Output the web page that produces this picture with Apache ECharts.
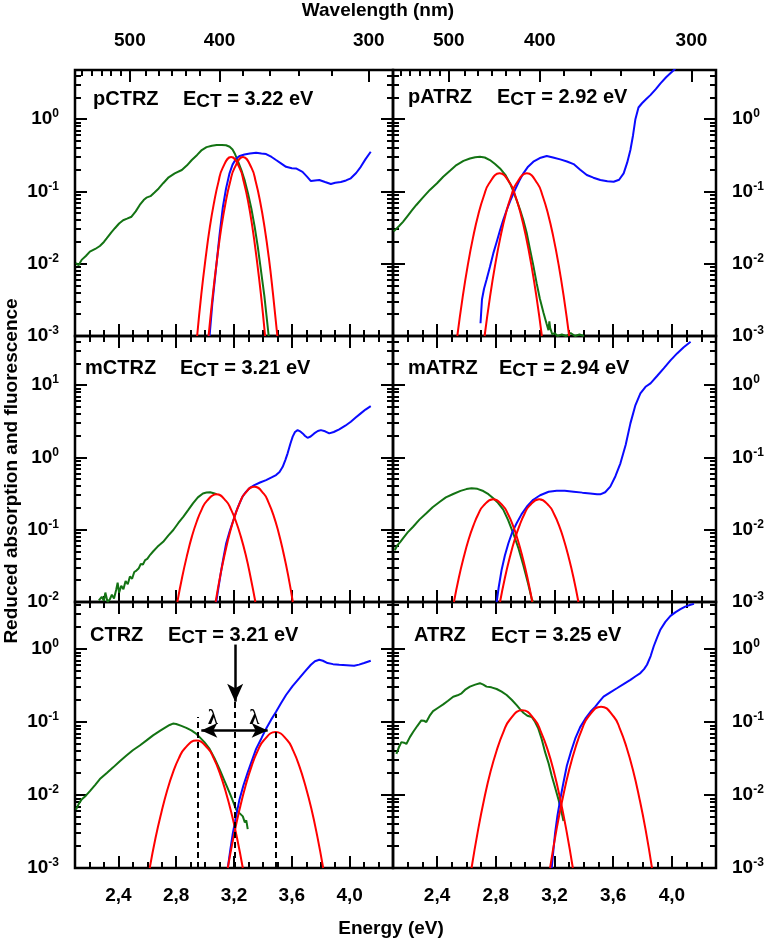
<!DOCTYPE html>
<html>
<head>
<meta charset="utf-8">
<title>CT energies</title>
<script src="https://cdn.jsdelivr.net/npm/echarts@6.0.0/dist/echarts.min.js"></script>
<style>
  html, body { margin: 0; padding: 0; background: #fff; }
  #main { width: 768px; height: 941px; }
</style>
</head>
<body>
<div id="main"></div>
<script>
// tick labels
var energyLabels = [2.4, 2.8, 3.2, 3.6, 4.0];
var wavelengthLabels = [500, 400, 300];
var wavelengthMinorTicks = [2.15, 2.215, 2.282, 2.348, 2.417, 2.59, 2.68, 2.772, 2.865, 2.963, 3.262, 3.444, 3.648, 3.876];

// pCTRZ
var pCTRZ_fluo = [[2.107,0.0102],[2.125,0.0095],[2.146,0.0113],[2.175,0.0128],[2.203,0.0147],[2.24,0.016],[2.272,0.0176],[2.30,0.02],[2.319,0.0224],[2.35,0.027],[2.376,0.031],[2.405,0.036],[2.433,0.040],[2.46,0.042],[2.491,0.0447],[2.52,0.053],[2.548,0.065],[2.575,0.076],[2.594,0.082],[2.622,0.086],[2.65,0.097],[2.679,0.110],[2.71,0.13],[2.748,0.157],[2.79,0.178],[2.839,0.198],[2.875,0.23],[2.908,0.272],[2.945,0.32],[2.977,0.374],[3.01,0.41],[3.047,0.43],[3.08,0.44],[3.116,0.44],[3.145,0.435],[3.17,0.415],[3.19,0.38],[3.205,0.336],[3.225,0.27],[3.251,0.198],[3.275,0.14],[3.297,0.094],[3.32,0.058],[3.343,0.0325],[3.365,0.017],[3.389,0.0074],[3.41,0.0036],[3.425,0.0019],[3.44,0.001]];
var pCTRZ_abs = [[3.031,0.001],[3.05,0.0028],[3.077,0.0091],[3.10,0.025],[3.123,0.061],[3.145,0.11],[3.169,0.178],[3.19,0.235],[3.215,0.286],[3.24,0.31],[3.272,0.325],[3.31,0.335],[3.353,0.343],[3.39,0.335],[3.422,0.329],[3.46,0.30],[3.491,0.272],[3.525,0.245],[3.56,0.219],[3.6,0.21],[3.629,0.208],[3.674,0.187],[3.705,0.16],[3.732,0.139],[3.76,0.142],[3.79,0.144],[3.83,0.135],[3.87,0.127],[3.9,0.132],[3.939,0.135],[3.975,0.142],[4.008,0.152],[4.045,0.18],[4.077,0.219],[4.11,0.28],[4.146,0.354]];
var pCTRZ_fit1 = [[2.945,0.001],[2.974,0.0038],[3.004,0.0121],[3.033,0.0323],[3.063,0.0721],[3.092,0.1346],[3.121,0.21],[3.18,0.30],[3.239,0.21],[3.268,0.1346],[3.298,0.0721],[3.327,0.0323],[3.356,0.0121],[3.386,0.0038],[3.415,0.001]];
var pCTRZ_fit2 = [[3.024,0.001],[3.054,0.0038],[3.084,0.0121],[3.113,0.0323],[3.143,0.0721],[3.173,0.1346],[3.203,0.21],[3.262,0.30],[3.322,0.21],[3.351,0.1346],[3.381,0.0721],[3.411,0.0323],[3.441,0.0121],[3.47,0.0038],[3.5,0.001]];

// pATRZ
var pATRZ_fluo = [[2.105,0.028],[2.112,0.029],[2.14,0.033],[2.168,0.038],[2.2,0.046],[2.23,0.055],[2.259,0.065],[2.3,0.081],[2.351,0.105],[2.4,0.13],[2.442,0.16],[2.49,0.195],[2.532,0.232],[2.58,0.265],[2.624,0.286],[2.66,0.298],[2.692,0.302],[2.725,0.295],[2.76,0.272],[2.795,0.24],[2.829,0.208],[2.865,0.17],[2.897,0.129],[2.92,0.1],[2.942,0.076],[2.965,0.056],[2.988,0.040],[3.01,0.027],[3.034,0.0155],[3.057,0.0092],[3.079,0.0053],[3.10,0.0033],[3.125,0.0021],[3.145,0.0015],[3.159,0.0012],[3.165,0.0016],[3.17,0.0013],[3.185,0.00105],[3.2,0.0011],[3.22,0.001],[3.25,0.00105],[3.28,0.001],[3.31,0.0011],[3.34,0.001],[3.37,0.00105],[3.40,0.001]];
var pATRZ_abs = [[2.696,0.0015],[2.706,0.0032],[2.72,0.0045],[2.737,0.006],[2.76,0.009],[2.783,0.0139],[2.806,0.02],[2.829,0.029],[2.85,0.04],[2.874,0.055],[2.9,0.075],[2.931,0.105],[2.96,0.14],[2.988,0.178],[3.02,0.22],[3.056,0.258],[3.1,0.29],[3.147,0.309],[3.19,0.295],[3.239,0.278],[3.285,0.26],[3.33,0.239],[3.375,0.2],[3.42,0.169],[3.465,0.155],[3.512,0.144],[3.56,0.138],[3.603,0.136],[3.64,0.145],[3.671,0.178],[3.695,0.25],[3.717,0.374],[3.735,0.6],[3.751,1.0],[3.772,1.45],[3.796,1.66],[3.825,1.9],[3.853,2.15],[3.89,2.6],[3.922,3.13],[3.96,3.8],[4.013,4.79],[4.04,5.5]];
var pATRZ_fit1 = [[2.538,0.001],[2.574,0.0034],[2.61,0.0097],[2.646,0.0235],[2.682,0.0487],[2.718,0.0858],[2.754,0.1286],[2.826,0.178],[2.898,0.1286],[2.934,0.0858],[2.97,0.0487],[3.006,0.0235],[3.042,0.0097],[3.078,0.0034],[3.114,0.001]];
var pATRZ_fit2 = [[2.724,0.001],[2.76,0.0034],[2.796,0.0097],[2.832,0.0235],[2.868,0.0487],[2.904,0.0858],[2.94,0.1286],[3.012,0.178],[3.084,0.1286],[3.12,0.0858],[3.156,0.0487],[3.192,0.0235],[3.228,0.0097],[3.264,0.0034],[3.3,0.001]];

// mCTRZ
var mCTRZ_fluo = [[2.265,0.0105],[2.285,0.0118],[2.30,0.0104],[2.31,0.0135],[2.325,0.0101],[2.34,0.0108],[2.355,0.0126],[2.37,0.0112],[2.385,0.0148],[2.395,0.0185],[2.405,0.0135],[2.42,0.0168],[2.435,0.015],[2.45,0.0195],[2.465,0.0176],[2.48,0.0226],[2.495,0.021],[2.51,0.026],[2.525,0.0272],[2.54,0.029],[2.555,0.0335],[2.57,0.033],[2.585,0.038],[2.60,0.0395],[2.62,0.045],[2.64,0.05],[2.67,0.058],[2.71,0.068],[2.745,0.083],[2.78,0.099],[2.815,0.124],[2.85,0.152],[2.885,0.19],[2.916,0.232],[2.95,0.28],[2.985,0.318],[3.01,0.327],[3.035,0.329],[3.06,0.32],[3.08,0.31]];
var mCTRZ_abs = [[3.077,0.01],[3.095,0.017],[3.112,0.0277],[3.13,0.044],[3.146,0.065],[3.17,0.095],[3.192,0.129],[3.215,0.178],[3.238,0.232],[3.26,0.29],[3.284,0.336],[3.31,0.38],[3.341,0.415],[3.38,0.45],[3.422,0.486],[3.46,0.53],[3.491,0.57],[3.515,0.63],[3.537,0.743],[3.555,0.92],[3.571,1.14],[3.59,1.55],[3.606,1.94],[3.622,2.25],[3.64,2.39],[3.657,2.3],[3.675,2.15],[3.692,1.98],[3.709,1.87],[3.73,1.95],[3.755,2.15],[3.78,2.32],[3.801,2.39],[3.83,2.3],[3.859,2.15],[3.89,2.25],[3.928,2.45],[3.97,2.75],[4.008,3.12],[4.04,3.55],[4.077,4.07],[4.11,4.6],[4.146,5.14]];
var mCTRZ_fit1 = [[2.808,0.01],[2.842,0.0224],[2.876,0.0449],[2.909,0.0809],[2.943,0.131],[2.977,0.191],[3.011,0.249],[3.078,0.309],[3.146,0.249],[3.179,0.191],[3.213,0.131],[3.247,0.0809],[3.281,0.0449],[3.314,0.0224],[3.348,0.01]];
var mCTRZ_fit2 = [[3.073,0.01],[3.106,0.0237],[3.14,0.0499],[3.173,0.0938],[3.207,0.157],[3.24,0.235],[3.273,0.313],[3.34,0.394],[3.407,0.313],[3.44,0.235],[3.474,0.157],[3.507,0.0938],[3.54,0.0499],[3.574,0.0237],[3.607,0.01]];

// mATRZ
var mATRZ_fluo = [[2.112,0.0052],[2.13,0.0061],[2.15,0.0068],[2.168,0.0076],[2.2,0.0092],[2.237,0.011],[2.28,0.0138],[2.327,0.0169],[2.37,0.0205],[2.419,0.0244],[2.46,0.028],[2.51,0.0312],[2.56,0.0345],[2.6,0.0365],[2.635,0.0374],[2.675,0.0368],[2.715,0.0343],[2.75,0.031],[2.783,0.0272],[2.815,0.0235],[2.851,0.019],[2.885,0.0135],[2.92,0.0088],[2.955,0.0055],[2.988,0.0032],[3.02,0.0018],[3.045,0.0011],[3.055,0.001]];
var mATRZ_abs = [[2.806,0.001],[2.82,0.0016],[2.84,0.0028],[2.862,0.0044],[2.886,0.0065],[2.912,0.0092],[2.942,0.0123],[2.975,0.0163],[3.011,0.0208],[3.055,0.026],[3.102,0.030],[3.16,0.0335],[3.215,0.0347],[3.27,0.0345],[3.33,0.0336],[3.39,0.0326],[3.443,0.0318],[3.49,0.031],[3.512,0.0309],[3.545,0.033],[3.58,0.0394],[3.615,0.055],[3.649,0.083],[3.685,0.15],[3.717,0.296],[3.75,0.52],[3.785,0.77],[3.82,0.95],[3.854,1.06],[3.9,1.35],[3.944,1.71],[3.99,2.2],[4.035,2.75],[4.08,3.35],[4.127,3.98]];
var mATRZ_fit1 = [[2.515,0.001],[2.548,0.00215],[2.582,0.00418],[2.615,0.00733],[2.649,0.0116],[2.682,0.0166],[2.715,0.0214],[2.782,0.0263],[2.849,0.0214],[2.882,0.0166],[2.916,0.0116],[2.949,0.00733],[2.982,0.00418],[3.016,0.00215],[3.049,0.001]];
var mATRZ_fit2 = [[2.829,0.001],[2.862,0.00215],[2.896,0.00418],[2.929,0.00733],[2.963,0.0116],[2.996,0.0166],[3.029,0.0214],[3.096,0.0263],[3.163,0.0214],[3.196,0.0166],[3.23,0.0116],[3.263,0.00733],[3.296,0.00418],[3.33,0.00215],[3.363,0.001]];

// CTRZ
var CTRZ_fluo = [[2.107,0.0063],[2.125,0.0075],[2.146,0.0087],[2.175,0.0098],[2.203,0.0113],[2.24,0.0138],[2.272,0.0165],[2.32,0.02],[2.364,0.0239],[2.41,0.029],[2.456,0.0347],[2.5,0.041],[2.548,0.0477],[2.595,0.056],[2.64,0.0655],[2.69,0.076],[2.732,0.0855],[2.755,0.091],[2.778,0.095],[2.80,0.094],[2.836,0.0883],[2.87,0.083],[2.905,0.0767],[2.935,0.07],[2.962,0.062],[2.995,0.053],[3.031,0.0428],[3.065,0.032],[3.1,0.0226],[3.135,0.0155],[3.169,0.0108],[3.19,0.0085],[3.215,0.0063],[3.24,0.0056],[3.261,0.0051],[3.275,0.0042],[3.285,0.0045],[3.295,0.0034]];
var CTRZ_abs = [[3.157,0.001],[3.175,0.0018],[3.192,0.003],[3.215,0.0052],[3.238,0.0087],[3.265,0.0135],[3.295,0.0204],[3.325,0.03],[3.353,0.0428],[3.39,0.06],[3.422,0.081],[3.455,0.106],[3.491,0.138],[3.525,0.18],[3.56,0.234],[3.605,0.31],[3.652,0.398],[3.69,0.49],[3.732,0.608],[3.76,0.68],[3.79,0.713],[3.815,0.69],[3.847,0.642],[3.885,0.62],[3.928,0.608],[3.98,0.6],[4.031,0.589],[4.065,0.61],[4.1,0.643],[4.146,0.69]];
var CTRZ_fit1 = [[2.617,0.001],[2.657,0.00257],[2.698,0.0058],[2.738,0.0116],[2.778,0.0204],[2.818,0.0317],[2.859,0.0433],[2.939,0.0557],[3.02,0.0433],[3.06,0.0317],[3.1,0.0204],[3.14,0.0116],[3.181,0.0058],[3.221,0.00257],[3.261,0.001]];
var CTRZ_fit2 = [[3.157,0.001],[3.198,0.00273],[3.24,0.00653],[3.281,0.0136],[3.322,0.0249],[3.363,0.0398],[3.405,0.0557],[3.487,0.0728],[3.57,0.0557],[3.611,0.0398],[3.652,0.0249],[3.693,0.0136],[3.735,0.00653],[3.776,0.00273],[3.817,0.001]];
// lambda construction in the CTRZ panel
var CTRZ_ect = 3.208;
var CTRZ_peaks = [2.946, 3.486];

// ATRZ
var ATRZ_fluo = [[2.123,0.0366],[2.14,0.045],[2.157,0.053],[2.175,0.052],[2.191,0.050],[2.215,0.062],[2.237,0.073],[2.265,0.088],[2.293,0.105],[2.31,0.104],[2.327,0.100],[2.35,0.122],[2.373,0.141],[2.41,0.158],[2.442,0.174],[2.475,0.195],[2.51,0.222],[2.54,0.232],[2.567,0.247],[2.595,0.28],[2.624,0.305],[2.66,0.325],[2.692,0.34],[2.715,0.325],[2.737,0.305],[2.77,0.298],[2.806,0.283],[2.84,0.26],[2.874,0.234],[2.91,0.2],[2.942,0.17],[2.965,0.15],[2.988,0.134],[3.015,0.122],[3.045,0.117],[3.068,0.1],[3.09,0.081],[3.113,0.058],[3.136,0.0386],[3.16,0.027],[3.181,0.0183],[3.205,0.0125],[3.227,0.0087],[3.245,0.0062],[3.261,0.0044]];
var ATRZ_abs = [[3.181,0.001],[3.192,0.0017],[3.204,0.003],[3.22,0.0052],[3.239,0.0087],[3.26,0.0145],[3.284,0.0251],[3.31,0.038],[3.341,0.059],[3.375,0.085],[3.41,0.111],[3.445,0.138],[3.478,0.162],[3.505,0.19],[3.534,0.222],[3.58,0.255],[3.625,0.29],[3.67,0.33],[3.717,0.378],[3.75,0.42],[3.785,0.468],[3.81,0.53],[3.83,0.608],[3.855,0.8],[3.876,1.09],[3.9,1.45],[3.922,1.85],[3.955,2.35],[3.99,2.84],[4.025,3.2],[4.058,3.51],[4.09,3.8],[4.127,4.03],[4.15,4.15]];
var ATRZ_fit1 = [[2.635,0.001],[2.678,0.0032],[2.721,0.0088],[2.764,0.0208],[2.808,0.0418],[2.851,0.0721],[2.894,0.1064],[2.98,0.145],[3.066,0.1064],[3.109,0.0721],[3.153,0.0418],[3.196,0.0208],[3.239,0.0088],[3.282,0.0032],[3.325,0.001]];
var ATRZ_fit2 = [[3.17,0.001],[3.213,0.0033],[3.257,0.00926],[3.3,0.0222],[3.344,0.0455],[3.387,0.0793],[3.43,0.118],[3.517,0.162],[3.604,0.118],[3.647,0.0793],[3.69,0.0455],[3.734,0.0222],[3.777,0.00926],[3.821,0.0033],[3.864,0.001]];

var HC = 1239.84;
var FONT = '"Liberation Sans", Arial, Helvetica, sans-serif';
var GREEN = '#137313', BLUE = '#0a0aff', RED = '#ff0000';

var panels = [
    {col: 0, row: 0, name: 'pCTRZ', ect: '3.22', ymin: 1e-3, ymax: 4.79, fluo: pCTRZ_fluo, abs: pCTRZ_abs, fits: [pCTRZ_fit1, pCTRZ_fit2], nameX: 93, ectX: 183, textY: 99},
    {col: 1, row: 0, name: 'pATRZ', ect: '2.92', ymin: 1e-3, ymax: 4.79, fluo: pATRZ_fluo, abs: pATRZ_abs, fits: [pATRZ_fit1, pATRZ_fit2], nameX: 408, ectX: 497, textY: 97},
    {col: 0, row: 1, name: 'mCTRZ', ect: '3.21', ymin: 1e-2, ymax: 47.9, fluo: mCTRZ_fluo, abs: mCTRZ_abs, fits: [mCTRZ_fit1, mCTRZ_fit2], nameX: 85, ectX: 180, textY: 368},
    {col: 1, row: 1, name: 'mATRZ', ect: '2.94', ymin: 1e-3, ymax: 4.79, fluo: mATRZ_fluo, abs: mATRZ_abs, fits: [mATRZ_fit1, mATRZ_fit2], nameX: 408, ectX: 499, textY: 368},
    {col: 0, row: 2, name: 'CTRZ', ect: '3.21', ymin: 1e-3, ymax: 4.4, fluo: CTRZ_fluo, abs: CTRZ_abs, fits: [CTRZ_fit1, CTRZ_fit2], nameX: 90, ectX: 168, textY: 635, lambda: true},
    {col: 1, row: 2, name: 'ATRZ', ect: '3.25', ymin: 1e-3, ymax: 4.4, fluo: ATRZ_fluo, abs: ATRZ_abs, fits: [ATRZ_fit1, ATRZ_fit2], nameX: 414, ectX: 491, textY: 635}
];

var colRect = [{left: 75, width: 318}, {left: 393, width: 323}];
var rowTop = [70, 336, 602];
var rowH = 266;

var energyMinor = [];
for (var k = 22; k <= 42; k++) energyMinor.push(k / 10);

function powLabel(v) {
    var e = Math.round(Math.log10(v));
    if (Math.abs(v / Math.pow(10, e) - 1) > 1e-6) return '';
    return '{b|10}{s|' + e + '}';
}
var powRich = {
    b: {fontSize: 19, fontWeight: 'bold', fontFamily: FONT, color: '#000', lineHeight: 22},
    s: {fontSize: 12, fontWeight: 'bold', fontFamily: FONT, color: '#000', lineHeight: 10, verticalAlign: 'top'}
};
var tickStyle = {color: '#000', width: 2};

function xAxis(grid, pos, ticks, len, label) {
    return {
        type: 'value', gridIndex: grid, position: pos, min: 2.1, max: 4.3,
        axisLine: {show: false, onZero: false}, splitLine: {show: false},
        axisTick: {show: true, inside: true, length: len, customValues: ticks, lineStyle: tickStyle},
        axisLabel: label || {show: false}
    };
}

function yLog(grid, pos, p, showLabel) {
    return {
        type: 'log', logBase: 10, gridIndex: grid, position: pos, min: p.ymin, max: p.ymax,
        axisLine: {show: false, onZero: false}, splitLine: {show: false},
        axisTick: {show: true, inside: true, length: 12, lineStyle: tickStyle},
        axisLabel: showLabel ? {show: true, margin: 16, formatter: powLabel, rich: powRich} : {show: false}
    };
}

// minor ticks at 2..9 x 10^n, placed on a decade-exponent axis laid over the log one
function yMinor(grid, pos, p) {
    var lo = Math.log10(p.ymin), hi = Math.log10(p.ymax), vals = [];
    for (var d = Math.floor(lo); d <= Math.ceil(hi); d++) {
        for (var m = 2; m <= 9; m++) {
            var v = d + Math.log10(m);
            if (v > lo && v < hi) vals.push(v);
        }
    }
    return {
        type: 'value', gridIndex: grid, position: pos, min: lo, max: hi,
        axisLine: {show: false, onZero: false}, splitLine: {show: false},
        axisTick: {show: true, inside: true, length: 6, customValues: vals, lineStyle: tickStyle},
        axisLabel: {show: false, customValues: vals}
    };
}

var energyLabel = {
    show: true, margin: 18, customValues: energyLabels, color: '#000',
    fontSize: 19, fontWeight: 'bold', fontFamily: FONT,
    formatter: function (v) { return v.toFixed(1).replace('.', ','); }
};
var wlMajor = wavelengthLabels.map(function (w) { return HC / w; });
var wlLabel = {
    show: true, margin: 20, customValues: wlMajor, color: '#000',
    fontSize: 19, fontWeight: 'bold', fontFamily: FONT,
    formatter: function (v) { return String(Math.round(HC / v)); }
};

var grids = [], xAxes = [], yAxes = [], series = [], graphics = [];

panels.forEach(function (p) {
    var rect = {left: colRect[p.col].left, top: rowTop[p.row], width: colRect[p.col].width, height: rowH};
    var gA = grids.length;
    grids.push(Object.assign({show: true, borderColor: '#000', borderWidth: 2.5, backgroundColor: 'transparent'}, rect));
    var gB = grids.length;
    grids.push(Object.assign({show: false}, rect));

    var xMain = xAxes.length;
    xAxes.push(xAxis(gA, 'bottom', energyLabels, 12, p.row === 2 ? energyLabel : null));
    if (p.row === 0) {
        xAxes.push(xAxis(gA, 'top', wlMajor, 12, wlLabel));
    } else {
        xAxes.push(xAxis(gA, 'top', energyLabels, 12, null));
    }
    xAxes.push(xAxis(gB, 'bottom', energyMinor, 6, null));
    xAxes.push(xAxis(gB, 'top', p.row === 0 ? wavelengthMinorTicks : energyMinor, 6, null));

    var yMain = yAxes.length;
    yAxes.push(yLog(gA, 'left', p, p.col === 0));
    yAxes.push(yLog(gA, 'right', p, p.col === 1));
    yAxes.push(yMinor(gB, 'left', p));
    yAxes.push(yMinor(gB, 'right', p));

    function line(data, color, smooth) {
        return {
            type: 'line', xAxisIndex: xMain, yAxisIndex: yMain, data: data,
            showSymbol: false, symbol: 'none', smooth: smooth, silent: true,
            lineStyle: {color: color, width: 2}, itemStyle: {color: color}
        };
    }
    series.push(line(p.fluo, GREEN, false));
    series.push(line(p.abs, BLUE, false));
    series.push(line(p.fits[0], RED, true));
    var last = line(p.fits[1], RED, true);
    if (p.lambda) {
        var dash = {color: '#000', width: 2, type: [6, 4]};
        var solid = {color: '#000', width: 2.5, type: 'solid'};
        last.markLine = {
            silent: true, symbol: ['none', 'none'], label: {show: false},
            lineStyle: dash,
            data: [
                [{coord: [CTRZ_peaks[0], 1e-3]}, {coord: [CTRZ_peaks[0], 0.117]}],
                [{coord: [CTRZ_peaks[1], 1e-3]}, {coord: [CTRZ_peaks[1], 0.13]}],
                [{coord: [CTRZ_ect, 1e-3]}, {coord: [CTRZ_ect, 0.19]}],
                [{coord: [CTRZ_ect, 1.15], lineStyle: solid}, {coord: [CTRZ_ect, 0.19], symbol: 'arrow', symbolSize: [12, 18]}],
                [{coord: [2.974, 0.0767], lineStyle: solid, symbol: 'arrow', symbolSize: [11, 16]}, {coord: [3.433, 0.0767], symbol: 'arrow', symbolSize: [11, 16]}]
            ]
        };
        last.markPoint = {
            silent: true, symbol: 'circle', symbolSize: 0,
            label: {show: true, position: 'inside', formatter: 'λ', color: '#000', fontSize: 20, fontWeight: 'bold', fontFamily: '"Liberation Serif", "DejaVu Serif", serif'},
            data: [{coord: [3.054, 0.111]}, {coord: [3.341, 0.111]}]
        };
    }
    series.push(last);

    graphics.push({
        type: 'text', x: p.nameX, y: p.textY, z: 100,
        style: {text: p.name, font: 'bold 20px ' + FONT, fill: '#000', verticalAlign: 'middle', textVerticalAlign: 'middle'}
    });
    graphics.push({
        type: 'text', x: p.ectX, y: p.textY, z: 100,
        style: {
            text: '{n|E}{s|CT}{n| = ' + p.ect + ' eV}', verticalAlign: 'middle', textVerticalAlign: 'middle',
            rich: {
                n: {fontSize: 20, fontWeight: 'bold', fontFamily: FONT, fill: '#000', lineHeight: 24},
                s: {fontSize: 19, fontWeight: 'bold', fontFamily: FONT, fill: '#000', lineHeight: 16, verticalAlign: 'bottom'}
            }
        }
    });
});

graphics.push({
    type: 'text', x: 378, y: 11, z: 100,
    style: {text: 'Wavelength (nm)', font: 'bold 19px ' + FONT, fill: '#000', align: 'center', textAlign: 'center', verticalAlign: 'middle', textVerticalAlign: 'middle'}
});
graphics.push({
    type: 'text', x: 391, y: 929, z: 100,
    style: {text: 'Energy (eV)', font: 'bold 19px ' + FONT, fill: '#000', align: 'center', textAlign: 'center', verticalAlign: 'middle', textVerticalAlign: 'middle'}
});
graphics.push({
    type: 'text', x: 12, y: 471, rotation: Math.PI / 2, z: 100,
    style: {text: 'Reduced absorption and fluorescence', font: 'bold 19px ' + FONT, fill: '#000', align: 'center', textAlign: 'center', verticalAlign: 'middle', textVerticalAlign: 'middle'}
});

var chart = echarts.init(document.getElementById('main'));
var option = {
    animation: false,
    backgroundColor: '#fff',
    grid: grids,
    xAxis: xAxes,
    yAxis: yAxes,
    series: series,
    graphic: graphics
};
chart.setOption(option, true);
</script>
</body>
</html>
